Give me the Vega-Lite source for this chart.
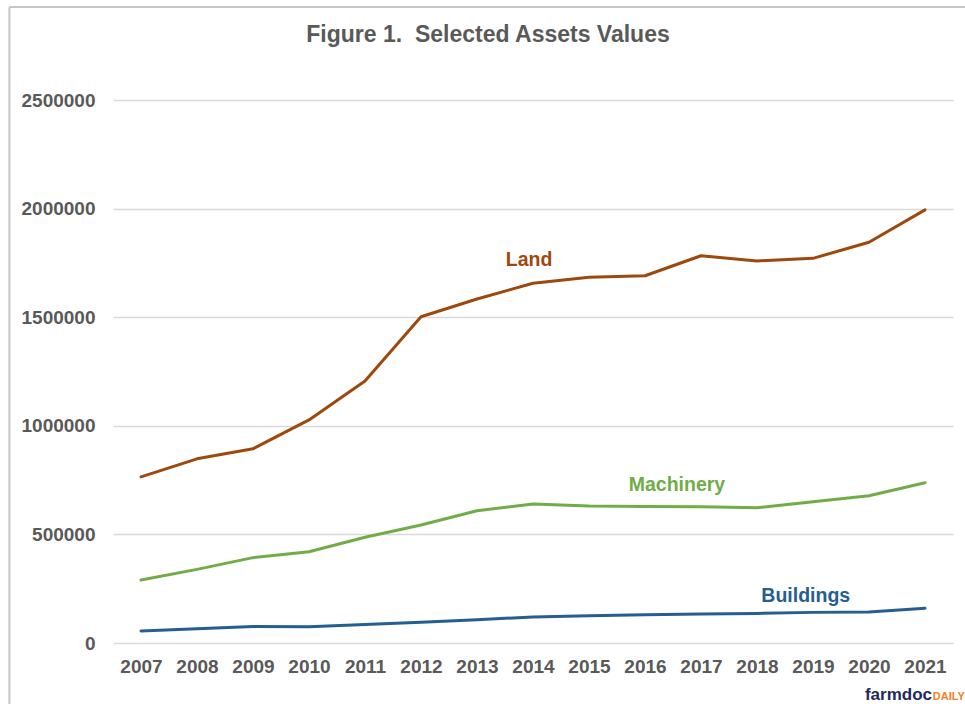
{
  "$schema": "https://vega.github.io/schema/vega-lite/v6.json",
  "width": 840,
  "height": 543,
  "autosize": "none",
  "padding": {"left": 113, "top": 100, "right": 12, "bottom": 61},
  "background": "white",
  "config": {
    "view": {"stroke": null},
    "font": "Liberation Sans",
    "text": {"font": "Liberation Sans"}
  },
  "title": {
    "text": "Figure 1.\u00a0 Selected Assets Values",
    "font": "Liberation Sans",
    "fontSize": 23,
    "fontWeight": "bold",
    "color": "#595959",
    "anchor": "middle",
    "frame": "group",
    "dx": -45,
    "baseline": "alphabetic",
    "offset": -59
  },
  "datasets": {
    "series": [
      {"year": 2007, "series": "Land", "value": 765000},
      {"year": 2008, "series": "Land", "value": 848000},
      {"year": 2009, "series": "Land", "value": 894000},
      {"year": 2010, "series": "Land", "value": 1027000},
      {"year": 2011, "series": "Land", "value": 1206000},
      {"year": 2012, "series": "Land", "value": 1502000},
      {"year": 2013, "series": "Land", "value": 1584000},
      {"year": 2014, "series": "Land", "value": 1656000},
      {"year": 2015, "series": "Land", "value": 1684000},
      {"year": 2016, "series": "Land", "value": 1691000},
      {"year": 2017, "series": "Land", "value": 1783000},
      {"year": 2018, "series": "Land", "value": 1759000},
      {"year": 2019, "series": "Land", "value": 1771000},
      {"year": 2020, "series": "Land", "value": 1845000},
      {"year": 2021, "series": "Land", "value": 1994000},
      {"year": 2007, "series": "Machinery", "value": 290000},
      {"year": 2008, "series": "Machinery", "value": 339000},
      {"year": 2009, "series": "Machinery", "value": 393000},
      {"year": 2010, "series": "Machinery", "value": 420000},
      {"year": 2011, "series": "Machinery", "value": 487000},
      {"year": 2012, "series": "Machinery", "value": 543000},
      {"year": 2013, "series": "Machinery", "value": 609000},
      {"year": 2014, "series": "Machinery", "value": 640000},
      {"year": 2015, "series": "Machinery", "value": 631000},
      {"year": 2016, "series": "Machinery", "value": 628000},
      {"year": 2017, "series": "Machinery", "value": 627000},
      {"year": 2018, "series": "Machinery", "value": 623000},
      {"year": 2019, "series": "Machinery", "value": 650000},
      {"year": 2020, "series": "Machinery", "value": 678000},
      {"year": 2021, "series": "Machinery", "value": 738000},
      {"year": 2007, "series": "Buildings", "value": 55000},
      {"year": 2008, "series": "Buildings", "value": 66000},
      {"year": 2009, "series": "Buildings", "value": 76000},
      {"year": 2010, "series": "Buildings", "value": 75000},
      {"year": 2011, "series": "Buildings", "value": 85000},
      {"year": 2012, "series": "Buildings", "value": 95000},
      {"year": 2013, "series": "Buildings", "value": 107000},
      {"year": 2014, "series": "Buildings", "value": 120000},
      {"year": 2015, "series": "Buildings", "value": 126000},
      {"year": 2016, "series": "Buildings", "value": 130000},
      {"year": 2017, "series": "Buildings", "value": 133000},
      {"year": 2018, "series": "Buildings", "value": 136000},
      {"year": 2019, "series": "Buildings", "value": 141000},
      {"year": 2020, "series": "Buildings", "value": 143000},
      {"year": 2021, "series": "Buildings", "value": 160000}
    ],
    "labels": [
      {"series": "Land", "year": 2013.93, "value": 1737000},
      {"series": "Machinery", "year": 2016.57, "value": 701000},
      {"series": "Buildings", "year": 2018.87, "value": 190000}
    ]
  },
  "layer": [
    {
      "data": {"name": "series"},
      "mark": {"type": "line", "strokeWidth": 3, "strokeCap": "round", "strokeJoin": "round"},
      "encoding": {
        "x": {
          "field": "year",
          "type": "quantitative",
          "scale": {"domain": [2006.5, 2021.5], "nice": false, "zero": false},
          "axis": {
            "values": [2007, 2008, 2009, 2010, 2011, 2012, 2013, 2014, 2015, 2016, 2017, 2018, 2019, 2020, 2021],
            "format": "d",
            "title": null,
            "grid": false,
            "domain": false,
            "ticks": false,
            "labelFont": "Liberation Sans",
            "labelFontSize": 19,
            "labelFontWeight": "bold",
            "labelColor": "#595959",
            "labelPadding": 14
          }
        },
        "y": {
          "field": "value",
          "type": "quantitative",
          "scale": {"domain": [0, 2500000], "nice": false},
          "axis": {
            "values": [0, 500000, 1000000, 1500000, 2000000, 2500000],
            "format": "d",
            "title": null,
            "domain": false,
            "ticks": false,
            "gridColor": "#d9d9d9",
            "gridWidth": 1.5,
            "labelFont": "Liberation Sans",
            "labelFontSize": 19,
            "labelFontWeight": "bold",
            "labelColor": "#595959",
            "labelPadding": 18
          }
        },
        "color": {
          "field": "series",
          "type": "nominal",
          "scale": {"domain": ["Land", "Machinery", "Buildings"], "range": ["#9E480E", "#70AD47", "#255E91"]},
          "legend": null
        },
        "detail": {"field": "series"}
      }
    },
    {
      "data": {"name": "labels"},
      "mark": {"type": "text", "fontSize": 19.5, "fontWeight": "bold", "align": "center", "baseline": "alphabetic"},
      "encoding": {
        "x": {"field": "year", "type": "quantitative"},
        "y": {"field": "value", "type": "quantitative"},
        "text": {"field": "series"},
        "color": {"field": "series", "type": "nominal", "legend": null}
      }
    },
    {
      "data": {"values": [{}]},
      "mark": {"type": "rule", "color": "#c6c6c6", "strokeWidth": 2, "clip": false},
      "encoding": {
        "x": {"datum": 2004.65},
        "y": {"datum": 2928000},
        "y2": {"datum": -500000}
      }
    },
    {
      "data": {"values": [{}]},
      "mark": {"type": "rule", "color": "#c6c6c6", "strokeWidth": 2, "clip": false},
      "encoding": {
        "x": {"datum": 2004.65},
        "x2": {"datum": 2025},
        "y": {"datum": 2928000}
      }
    },
    {
      "data": {"values": [{}]},
      "mark": {"type": "text", "fontSize": 17, "fontWeight": "bold", "align": "right", "baseline": "alphabetic", "color": "#1f2a5c", "text": "farmdoc", "clip": false},
      "encoding": {
        "x": {"datum": 2021.125},
        "y": {"datum": -262000}
      }
    },
    {
      "data": {"values": [{}]},
      "mark": {"type": "text", "fontSize": 11, "fontWeight": "bold", "align": "left", "baseline": "alphabetic", "color": "#f58025", "text": "DAILY", "clip": false},
      "encoding": {
        "x": {"datum": 2021.14},
        "y": {"datum": -262000}
      }
    }
  ]
}
